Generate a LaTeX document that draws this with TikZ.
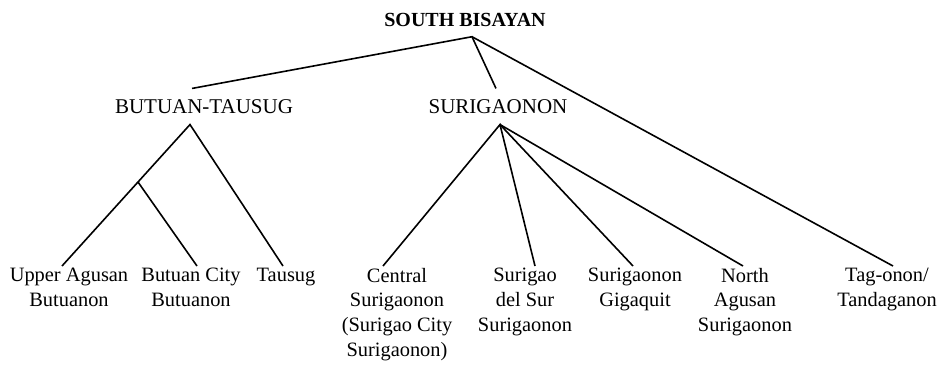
\documentclass[tikz,border=0pt]{standalone}
\usepackage{fontspec}
\setmainfont{Liberation Serif}
\begin{document}
\begin{tikzpicture}[x=0.5pt, y=-0.5pt, line width=0.8pt,
    every node/.style={inner sep=0pt, font=\fontsize{10.2}{12.4}\selectfont},
    group/.style={outer sep=5.5pt, font=\fontsize{10.5}{12.5}\selectfont},
    leaf/.style={anchor=north, align=center, outer sep=1pt}]
  \useasboundingbox (0,0) rectangle (943,365);
  % top levels
  \node[outer sep=5pt, font=\fontsize{10}{12}\selectfont\bfseries] (sb) at (465,20) {SOUTH BISAYAN};
  \node[group] (bt) at (204,106.5) {BUTUAN-TAUSUG};
  \node[group] (su) at (498,106.5) {SURIGAONON};
  % languages
  \node[leaf] (upper) at (69,266) {Upper Agusan\\Butuanon};
  \node[leaf] (butuan) at (191,266) {Butuan City\\Butuanon};
  \node[leaf] (tausug) at (286,266) {Tausug};
  \node[leaf] (central) at (397,266) {Central\\Surigaonon\\(Surigao City\\Surigaonon)};
  \node[leaf] (delsur) at (525,266) {Surigao\\del Sur\\Surigaonon};
  \node[leaf] (giga) at (635,266) {Surigaonon\\Gigaquit};
  \node[leaf] (north) at (745,266) {North\\Agusan\\Surigaonon};
  \node[leaf] (tag) at (887,266) {Tag-onon/\\Tandaganon};
  \coordinate (btJoin) at (138,182);
  % branches
  \draw ([xshift=-6pt]bt.north) -- ([xshift=3.5pt]sb.south) -- ([xshift=-1pt]su.north);
  \draw ([xshift=3.5pt]sb.south) -- ([xshift=3pt]tag.north);
  \draw ([xshift=-3.5pt]upper.north) -- (btJoin) -- ([xshift=-7pt]bt.south) -- ([xshift=-1.5pt]tausug.north);
  \draw (btJoin) -- ([xshift=3pt]butuan.north);
  \draw ([xshift=-7pt]central.north) -- ([xshift=1pt]su.south) -- ([xshift=5pt]delsur.north);
  \draw ([xshift=1pt]su.south) -- ([xshift=-1pt]giga.north);
  \draw ([xshift=1pt]su.south) -- ([xshift=-1pt]north.north);
\end{tikzpicture}
\end{document}
